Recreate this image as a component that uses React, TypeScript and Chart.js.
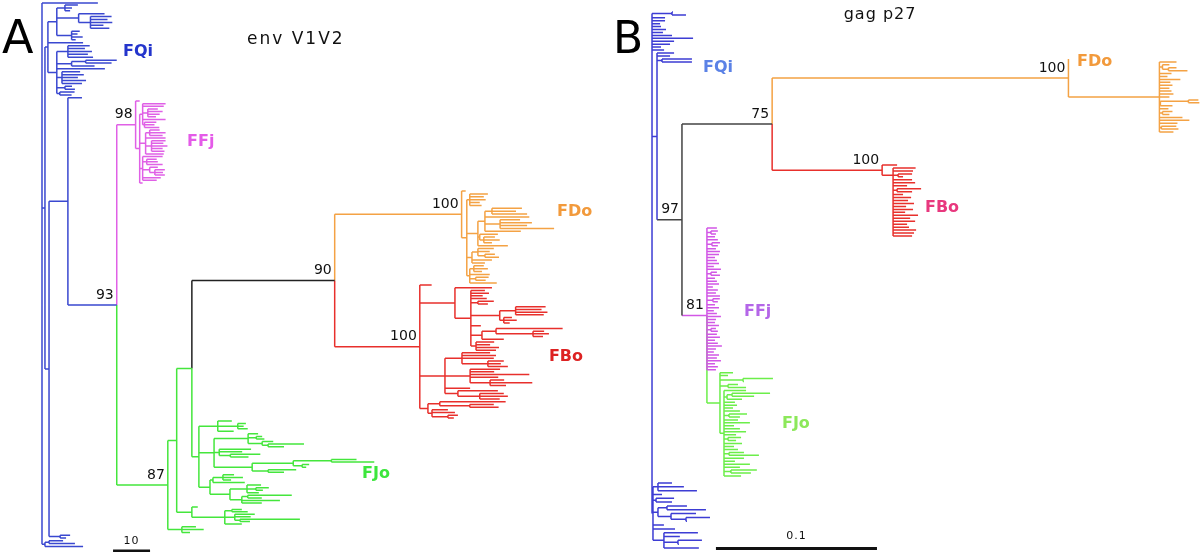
import React, { useEffect, useRef } from 'react';
import { Chart, registerables } from 'chart.js';

Chart.register(...registerables);

// ---------------- DATA ----------------
// Panel A (env V1V2): branch lengths in tree units (scale bar = 10)
const A_FQI_TOP = "(((:3.5,:1.9,:1.4):2.2,(:7,(:5.7,:4.6,:5.9,:3.5,:5.1):3.2):5.9,(:2.2,:1.6,:3,:1.1):4):2.4,:9.5,((:5.9,:4.6,:6.5,:5.4,:6.8):3,((:8.4,:7):3.8,:6.2):4,:13,(:4.9,:5.9,:4.3,:6.5,:5.4):1.4,(:1.9,:2.7):2.2,(:4,:3.2):0.8):2.4)FQiTop:0.8";
const A_FFJ = "(:1.1,((:6.2,:5.7,(:2.7,:4,:3.2,:2.2):1.4,:6.2,(:3.2,:2.7,:4):0.5):0.8,((:2.7,:4.3,:3.5):1.1,:5.4,(:3.8,:3.2,:4.3,:3,:3.5):1.6,:4.9):1.6,(:5.4,(:2.7,:3,:4.3):1.1,(:2.2,(:2.7,:2.2,:2.7):1.4):1.9,:4.9,:3.8):0.8,:0.8):1.1)FFj|98|m:5.1";
const A_FDO = "(:1.1,((:4.9,:3.8,:4.3,:2.7,:3.2):0.8,(((:8.1,:6.5,:9.5):1.9,:12,(:5.4,:8.6,:7.3,:14.6):4.1,:9.7):1.9,(:4.9,(:3,:4.3,:2.2):1.1):0.5,:8.1):3,((:4.3,:3.2,(:2.7,:3.8):1.9):1.6,:5.4,:3.5):1.4,((:2.7,:3.8,:2.2):1.1,:5.4,(:3.5,:2.7):1.6,:7.3):0.8):1.4)FDo|100|o:34.3";
const A_FBO = "(:3.2,(:10,(:3.8,:4.9,:3.2,:4.3,(:4.3,:2.7):1.9,((:8.1,:7,:8.6,:7.6):4.3,(:2.2,:3.5,:1.6):1.1):7.8,:2.7,((:18,(:3,:4.3,:2.7):10):3.8,:5.9):3,(:4.9,:3.8,:6.2,:5.4):1.4):4.3):9.5,((:7.6,:9.2,:8.6,(:4.3,:3.5,:5.4):7):4.6,(:8.1,:6.5,:16,:7.6,(:3.8,:11.4,:4.3):5.4):6.8,:6.8,(:10.8,(:6.5,:7.6,:5.4):5.9):3.5):6.8,((:17.8,(:6.5,:7.8):8.1):3.2,(:4.3,:6.2,(:2.7,:1.6):4.3):1.1):2.2)FBo|100|r:23";
const A_N90 = `(${A_FDO},${A_FBO})|90|k:38.6`;
const A_FJO_MAIN = "((:3.8,(:2.2,:1.6,:2.7):5.4,:4.3):5.1,((:2.7,(:1.6,:2.2):2.2,(:3,(:9.7,:4.3):1.6):3.8):9.2,(:8.6,:6.2,(:8.1,:4.9):3):1.4,(((:6.8,:11.6):10.3,(:1.9,:1.1):2.4):11.1,(:7.6,:4.3):4.3):10.3):4.1,(((:3,:5.4,:2.2):2.7,:8.6):0.8,((:3.8,(:3.5,:1.9):2.4,:3.2):4.6,((:11.9,:3.8):1.6,:10.3,:5.4):3.2):5.4):3)FJoM:1.9";
const A_J3 = "(:1.6,((:2.7,:4.3):1.9,(:5.4,:4.3,(:16.2,:2.7):1.4):2.7,:4.6):8.9)J3:4.1";
const A_N87_BOT = "(:3.8,:5.9,:2.2):3.8";
const A_N87 = `(((${A_N90},${A_FJO_MAIN}):4.1,${A_J3}):2.4,${A_N87_BOT})|87|g:13.8`;
const A_N2_BOT = "(:2.7,:1.6):3";
const A_ROOT_BOT = "((:3.8,:7):1.1,:10.3):0.8";
const TREE_A = `(:15.1,(${A_FQI_TOP},((:3.8,(${A_FFJ},${A_N87})|93:13.2):5.1,${A_N2_BOT}):1.1):0.8,${A_ROOT_BOT})||b`;

// leaf row bands (rows of the figure) for each named clade of panel A
const ROWS_A: Record<string, [number, number]> = {
  FQiTop: [5, 95], FFj: [101, 183], FDo: [191, 283], FBo: [285, 418], FJoM: [421, 503], J3: [507, 524],
};

const CLADE_NAMES_A = ['FQi', 'FFj', 'FDo', 'FBo', 'FJo'];
const CLADE_X_A = [21.9, 39.2, 139.2, 137, 86.5];
const CLADE_Y_A = [52, 142, 212, 357, 474];
const CLADE_COLORS_A = ['#2435cc', '#e45be8', '#f29a3c', '#dd2222', '#3ce63c'];
const SCALE_A = [19.2, 29.2];
const SCALE_LABEL_A = '10';

// Panel B (gag p27): branch lengths in thousandths of substitutions/site (scale bar = 0.1)
const B_Q_TOP = "((:0.6,:8.7):12.4,:8.1,:8.1,:5,:5.6,:8.7,:6.8,:12.4,:25.5,:13.7,:11.2,:5.6,:7.5)QTop:0";
const B_FDO = "(:0,(:10.6,(:4.3,(:5,:11.8):3.7):1.9,:7.5,:5,:13,:6.8,:8.1,:6.2,:7.5,:8.7,:6.2,((:6.2,:6.8):17.4,:7.5):0.6,:5.6,(:6.2,:4.3):1.9,:14.3,:18.6,:11.2,(:9.3,:10.6):1.2,:8.7):56.5)FDoB|100|o:184";
const B_FBO = "(:9.3,(:14,(:12.4,(:8.7,:3.1):3.1,(:11.8,(:13.7,:8.7,(:14.9,:9.3):2.5,:6.2,:11.2,:9.3,:13,:8.1,:12.4,:7.5,:15.5,:10.6,:13.7,:8.7,:9.9,:14.3,:13,:11.8):0):0):0):6.8)FBoB|100|r:68.3";
const B_FFJ_LEAVES = ":6.2,(:4.3,:3.1):2.5,:5,:6.8,(:5,:3.7):3.1,:5.6,:8.1,:7.5,:5,:6.2,:7.5,:4.3,:8.7,(:3.7,:5.6):2.5,:5,:6.2,:7.5,:3.7,:6.8,:5.6,:8.1,(:4.3,:3.1):3.7,:5,:7.5,:4.3,:6.2,:8.7,:5.6,:5,:7.5,(:3.1,:4.3):2.5,:6.2,:8.1,:5,:6.8,:9.3,:5.6,:4.3,:7.5,:6.2,:8.7,:5,:6.8,:5.6";
const B_FJO = "(:8.1,:5,(:18.6,:0.6):14.3,(:6.2,:11.2):5,(:13.7,((:23.6,:13.7):3.1,:9.3):1.9,:6.8,:8.1,:5.6,:9.9,(:11.2,:6.8):3.1,:8.7,:16.1,:6.2,:9.9,:13.7,:7.5,(:8.1,:5):2.5,:11.2,:6.2,:8.7,(:9.3,:18.6):3.1,:12.4,:6.8,:16.1,:9.9,(:16.1,:12.4):4.3,:10.6):2.5)||g:8.1";
const B_N81 = `(${B_FFJ_LEAVES},${B_FJO})FFjB|81|m|k:15.5`;
const B_N75 = `(${B_FDO},${B_FBO})|75|k:56`;
const B_N97 = `(${B_N75},${B_N81})|97|k|b:15.5`;
const B_Q = `(:10.6,:8.1,(:18.6,:18.6):3.1,${B_N97}):3.1`;
const B_Q_BOT = "((:8.7,:16.1,:24.2):3.1,:5.6,(:11.2,:9.9):1.9,((:12.4,:24.2):5.6,(:15.5,(:14.9,:0.6):9.3):8.1):3.1,:6.8,:13.7,((:21.1,:9.9,(:14.9,:0.6):8.7,:21.7):5.6):1.2)QBot:0.6";
const TREE_B = `(${B_Q_TOP},${B_Q},${B_Q_BOT})||b`;

const ROWS_B: Record<string, [number, number]> = {
  QTop: [12, 50], FDoB: [59, 132], FBoB: [165, 236], FFjB: [228, 476], QBot: [483, 548],
};

const CLADE_NAMES_B = ['FQi', 'FDo', 'FBo', 'FFj', 'FJo'];
const CLADE_X_B = [31.7, 263.9, 169.5, 57.1, 80.7];
const CLADE_Y_B = [68, 62, 208, 312, 424];
const CLADE_COLORS_B = ['#5b82e6', '#f29a3c', '#e8387e', '#b466e8', '#8ce85a'];
const SCALE_B = [39.7, 139.7];
const SCALE_LABEL_B = '0.1';

const PALETTE_A: Record<string, string> = { b: '#3a48d0', m: '#e060e6', o: '#f4a244', r: '#e8302c', g: '#44e63c', k: '#222222' };
const PALETTE_B: Record<string, string> = { b: '#3d3dd4', m: '#d257e6', o: '#f4a244', r: '#e8302c', g: '#6cee4a', k: '#444444' };

// ---------------- TREE HELPERS ----------------
interface TNode {
  children: TNode[]; len: number; key: string; boot: string; col: string; vcol: string;
  x: number; y: number; parent: TNode | null;
}

function parseNewick(src: string): TNode {
  const s = src.replace(/\s+/g, '');
  let i = 0;
  const readNode = (parent: TNode | null): TNode => {
    const n: TNode = { children: [], len: 0, key: '', boot: '', col: '', vcol: '', x: 0, y: 0, parent };
    if (s[i] === '(') {
      i++;
      n.children.push(readNode(n));
      while (s[i] === ',') { i++; n.children.push(readNode(n)); }
      i++;
    }
    let label = '';
    while (i < s.length && !':,();'.includes(s[i])) label += s[i++];
    if (s[i] === ':') {
      i++;
      let num = '';
      while (i < s.length && /[-0-9.eE]/.test(s[i])) num += s[i++];
      n.len = parseFloat(num) || 0;
    }
    const parts = label.split('|');
    n.key = parts[0] || ''; n.boot = parts[1] || ''; n.col = parts[2] || ''; n.vcol = parts[3] || '';
    return n;
  };
  return readNode(null);
}

function layoutTree(src: string, rows: Record<string, [number, number]>, start: number, step: number): TNode[] {
  const root = parseNewick(src);
  const all: TNode[] = [];
  const walk = (n: TNode, px: number, pc: string) => {
    n.x = n.parent ? px + n.len : 0;
    n.col = n.col || pc;
    all.push(n);
    n.children.forEach((c) => walk(c, n.x, n.col));
  };
  walk(root, 0, 'b');
  let cursor = start;
  const leavesOf = (n: TNode): TNode[] => (n.children.length ? n.children.flatMap(leavesOf) : [n]);
  const place = (n: TNode) => {
    const band = rows[n.key];
    if (band) {
      const lv = leavesOf(n);
      lv.forEach((l, k) => { l.y = lv.length > 1 ? band[0] + ((band[1] - band[0]) * k) / (lv.length - 1) : band[0]; });
      cursor = band[1] + step;
    } else if (!n.children.length) {
      n.y = cursor; cursor += step;
    } else n.children.forEach(place);
  };
  place(root);
  const mid = (n: TNode) => {
    if (n.children.length) {
      n.children.forEach(mid);
      n.y = (n.children[0].y + n.children[n.children.length - 1].y) / 2;
    }
  };
  mid(root);
  return all;
}

interface PanelCfg {
  tree: string; rows: Record<string, [number, number]>; start: number; step: number;
  xMin: number; xMax: number; palette: Record<string, string>;
  letter: string; letterX: number; letterY: number; letterSize: number;
  title: string; titleX: number; titleY: number; titleSize: number; titleSpacing: number;
  names: string[]; nx: number[]; ny: number[]; ncol: string[];
  scale: number[]; scaleY: number; scaleLabel: string; scaleLabelY: number;
}

const PANEL_A: PanelCfg = {
  tree: TREE_A, rows: ROWS_A, start: 3, step: 2.8, xMin: -11.35, xMax: 150.8, palette: PALETTE_A,
  letter: 'A', letterX: -10.8, letterY: 53, letterSize: 46,
  title: 'env V1V2', titleX: 68.6, titleY: 40, titleSize: 17, titleSpacing: 2,
  names: CLADE_NAMES_A, nx: CLADE_X_A, ny: CLADE_Y_A, ncol: CLADE_COLORS_A,
  scale: SCALE_A, scaleY: 551, scaleLabel: SCALE_LABEL_A, scaleLabelY: 547,
};

const PANEL_B: PanelCfg = {
  tree: TREE_B, rows: ROWS_B, start: 12, step: 3, xMin: -32.3, xMax: 340.3, palette: PALETTE_B,
  letter: 'B', letterX: -24.2, letterY: 53, letterSize: 44,
  title: 'gag p27', titleX: 141.6, titleY: 15, titleSize: 16, titleSpacing: 1,
  names: CLADE_NAMES_B, nx: CLADE_X_B, ny: CLADE_Y_B, ncol: CLADE_COLORS_B,
  scale: SCALE_B, scaleY: 548.5, scaleLabel: SCALE_LABEL_B, scaleLabelY: 542,
};

const GAP = { x: NaN, y: NaN };

function Panel({ cfg, left }: { cfg: PanelCfg; left: number }) {
  const ref = useRef<HTMLCanvasElement | null>(null);
  useEffect(() => {
    if (!ref.current) return;
    const nodes = layoutTree(cfg.tree, cfg.rows, cfg.start, cfg.step);
    const groups: Record<string, { x: number; y: number }[]> = {};
    const push = (c: string, a: { x: number; y: number }, b: { x: number; y: number }) => {
      (groups[c] = groups[c] || []).push(a, b, { ...GAP });
    };
    nodes.forEach((n) => {
      const p = n.parent;
      if (!p) return;
      if (Math.abs(p.y - n.y) > 1e-6) push(n.vcol || n.col, { x: p.x, y: p.y }, { x: p.x, y: n.y });
      if (n.len > 0) push(n.col, { x: p.x, y: n.y }, { x: n.x, y: n.y });
    });
    const datasets: any[] = Object.keys(groups).map((c) => ({
      data: groups[c], borderColor: cfg.palette[c] || c, borderWidth: 1.5,
      pointRadius: 0, spanGaps: false, fill: false, tension: 0,
    }));
    datasets.push({
      data: [{ x: cfg.scale[0], y: cfg.scaleY }, { x: cfg.scale[1], y: cfg.scaleY }],
      borderColor: '#111111', borderWidth: 3, pointRadius: 0, fill: false,
    });
    const supports = nodes.filter((n) => n.boot);

    const annot = {
      id: 'annot',
      afterDatasetsDraw(chart: any) {
        const ctx = chart.ctx as CanvasRenderingContext2D;
        const xs = chart.scales.x, ys = chart.scales.y;
        const X = (v: number) => xs.getPixelForValue(v);
        const Y = (v: number) => ys.getPixelForValue(v);
        ctx.save();
        ctx.fillStyle = '#111111';
        ctx.font = '14px "DejaVu Sans"';
        ctx.textAlign = 'right';
        ctx.textBaseline = 'bottom';
        supports.forEach((n) => ctx.fillText(n.boot, X(n.x) - 3, Y(n.y) - 3));
        ctx.font = 'bold 16px "DejaVu Sans"';
        ctx.textAlign = 'left';
        ctx.textBaseline = 'middle';
        cfg.names.forEach((t, k) => { ctx.fillStyle = cfg.ncol[k]; ctx.fillText(t, X(cfg.nx[k]), Y(cfg.ny[k])); });
        ctx.fillStyle = '#000000';
        ctx.font = `${cfg.letterSize}px "DejaVu Sans"`;
        ctx.textBaseline = 'alphabetic';
        ctx.fillText(cfg.letter, X(cfg.letterX), Y(cfg.letterY));
        ctx.fillStyle = '#111111';
        ctx.font = `${cfg.titleSize}px "DejaVu Sans"`;
        ctx.textAlign = 'center';
        ctx.textBaseline = 'middle';
        (ctx as any).letterSpacing = `${cfg.titleSpacing}px`;
        ctx.fillText(cfg.title, X(cfg.titleX), Y(cfg.titleY));
        ctx.font = '11px "DejaVu Sans"';
        (ctx as any).letterSpacing = '1px';
        ctx.textBaseline = 'bottom';
        ctx.fillText(cfg.scaleLabel, X((cfg.scale[0] + cfg.scale[1]) / 2), Y(cfg.scaleLabelY));
        (ctx as any).letterSpacing = '0px';
        ctx.restore();
      },
    };

    const chart = new Chart(ref.current, {
      type: 'line',
      data: { datasets },
      options: {
        animation: false,
        responsive: false,
        devicePixelRatio: 1,
        events: [],
        layout: { padding: 0 },
        plugins: { legend: { display: false }, tooltip: { enabled: false }, title: { display: false } },
        scales: {
          x: { type: 'linear', min: cfg.xMin, max: cfg.xMax, display: false },
          y: { type: 'linear', min: 0, max: 552, reverse: true, display: false },
        },
      },
      plugins: [annot],
    } as any);
    return () => chart.destroy();
  }, [cfg]);
  return (
    <canvas
      ref={ref}
      width={600}
      height={552}
      style={{ position: 'absolute', left, top: 0, width: 600, height: 552 }}
    />
  );
}

export default function App() {
  return (
    <div style={{ position: 'absolute', left: 0, top: 0, width: 1200, height: 552, background: '#ffffff', overflow: 'hidden' }}>
      <Panel cfg={PANEL_A} left={0} />
      <Panel cfg={PANEL_B} left={600} />
    </div>
  );
}
